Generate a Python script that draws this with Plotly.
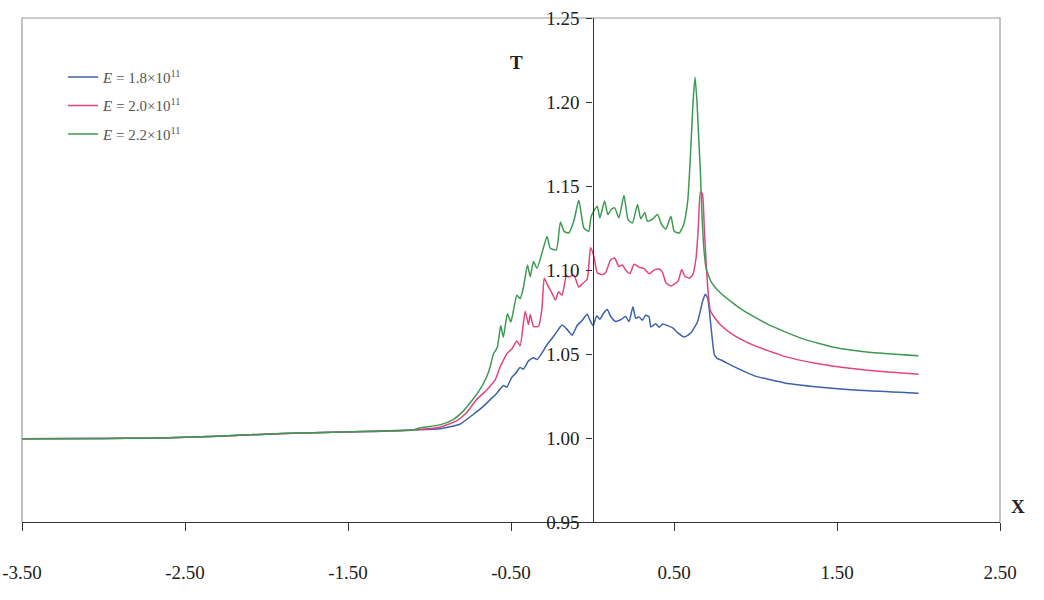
import plotly.graph_objects as go

# ---- data ----
x_common = [-3.5, -3.0, -2.7, -2.3, -1.9, -1.4, -1.1]
t_common = [0.9995, 0.9997, 0.9999, 1.0010, 1.0027, 1.0038, 1.0048]

x_blue = [-0.937, -0.814, -0.732, -0.670, -0.629, -0.588, -0.547, -0.526, -0.495, -0.475,
          -0.444, -0.424, -0.393, -0.362, -0.341, -0.310, -0.279, -0.248, -0.218, -0.187,
          -0.160, -0.125, -0.094, -0.064, -0.033, -0.015, 0.004, 0.025, 0.045, 0.070,
          0.091, 0.111, 0.142, 0.173, 0.203, 0.224, 0.248, 0.265, 0.285, 0.306,
          0.326, 0.347, 0.358, 0.388, 0.409, 0.430, 0.461, 0.492, 0.522, 0.563,
          0.604, 0.645, 0.676, 0.692, 0.707, 0.728, 0.748, 0.764, 0.789, 0.871,
          0.994, 1.179, 1.385, 1.694, 2.0]
t_blue = [1.0055, 1.0082, 1.0140, 1.0188, 1.0227, 1.0265, 1.0313, 1.0303, 1.0362, 1.0381,
          1.0420, 1.0410, 1.0459, 1.0477, 1.0467, 1.0506, 1.0555, 1.0594, 1.0633, 1.0672,
          1.0651, 1.0612, 1.0670, 1.0699, 1.0737, 1.0700, 1.0668, 1.0727, 1.0707, 1.0746,
          1.0765, 1.0725, 1.0694, 1.0704, 1.0723, 1.0693, 1.0781, 1.0712, 1.0721, 1.0701,
          1.0731, 1.0721, 1.0661, 1.0680, 1.0659, 1.0679, 1.0669, 1.0655, 1.0627, 1.0601,
          1.0626, 1.0694, 1.0815, 1.0855, 1.0831, 1.0652, 1.0495, 1.0474, 1.0464, 1.0423,
          1.0370, 1.0328, 1.0304, 1.0281, 1.0267]

x_pink = [-0.937, -0.834, -0.773, -0.711, -0.649, -0.598, -0.567, -0.547, -0.526, -0.495,
          -0.464, -0.444, -0.413, -0.393, -0.382, -0.362, -0.331, -0.310, -0.296, -0.276,
          -0.248, -0.228, -0.208, -0.187, -0.160, -0.146, -0.115, -0.084, -0.064, -0.033,
          -0.012, 0.008, 0.029, 0.060, 0.080, 0.111, 0.136, 0.162, 0.183, 0.203,
          0.230, 0.255, 0.286, 0.316, 0.347, 0.378, 0.409, 0.430, 0.450, 0.481,
          0.501, 0.526, 0.547, 0.567, 0.594, 0.615, 0.635, 0.649, 0.662, 0.674,
          0.686, 0.699, 0.711, 0.722, 0.738, 0.789, 0.871, 0.994, 1.179, 1.385,
          1.591, 1.796, 2.0]
t_pink = [1.0064, 1.0102, 1.0150, 1.0229, 1.0286, 1.0344, 1.0423, 1.0462, 1.0501, 1.0530,
          1.0578, 1.0549, 1.0755, 1.0676, 1.0735, 1.0665, 1.0665, 1.0773, 1.0951, 1.0911,
          1.0861, 1.0821, 1.0870, 1.0850, 1.0967, 1.0958, 1.0971, 1.0898, 1.0916, 1.0945,
          1.1133, 1.1083, 1.0984, 1.0973, 1.0983, 1.1060, 1.1071, 1.1021, 1.1030, 1.1000,
          1.0979, 1.1034, 1.1017, 1.1008, 1.0978, 1.0999, 1.1006, 1.0985, 1.0925, 1.0905,
          1.0915, 1.0935, 1.1003, 1.0963, 1.0952, 1.0972, 1.1070, 1.1248, 1.1465, 1.1455,
          1.1247, 1.1010, 1.0851, 1.0760, 1.0732, 1.0670, 1.0610, 1.0550, 1.0486, 1.0442,
          1.0414, 1.0394, 1.0380]

x_green = [-1.060, -0.937, -0.855, -0.793, -0.742, -0.690, -0.649, -0.629, -0.608, -0.584,
           -0.563, -0.547, -0.522, -0.501, -0.464, -0.444, -0.424, -0.399, -0.382, -0.362,
           -0.341, -0.310, -0.279, -0.259, -0.222, -0.197, -0.173, -0.146, -0.115, -0.084,
           -0.053, -0.023, -0.008, 0.029, 0.045, 0.074, 0.094, 0.115, 0.136, 0.162,
           0.193, 0.218, 0.245, 0.276, 0.296, 0.321, 0.337, 0.368, 0.399, 0.424,
           0.450, 0.481, 0.501, 0.532, 0.559, 0.584, 0.604, 0.617, 0.629, 0.641,
           0.649, 0.662, 0.670, 0.683, 0.697, 0.728, 0.789, 0.912, 1.077, 1.282,
           1.488, 1.694, 2.0]
t_green = [1.0060, 1.0078, 1.0110, 1.0160, 1.0220, 1.0290, 1.0365, 1.0420, 1.0500, 1.0540,
           1.0670, 1.0600, 1.0740, 1.0690, 1.0850, 1.0830, 1.0895, 1.1030, 1.0960, 1.1050,
           1.1010, 1.1100, 1.1200, 1.1130, 1.1120, 1.1285, 1.1230, 1.1220, 1.1290, 1.1415,
           1.1250, 1.1230, 1.1320, 1.1380, 1.1310, 1.1410, 1.1330, 1.1360, 1.1370, 1.1310,
           1.1445, 1.1300, 1.1280, 1.1390, 1.1305, 1.1343, 1.1290, 1.1303, 1.1330, 1.1270,
           1.1243, 1.1320, 1.1230, 1.1220, 1.1270, 1.1408, 1.1744, 1.2000, 1.2148, 1.2000,
           1.1840, 1.1580, 1.1366, 1.1130, 1.1010, 1.0930, 1.0860, 1.0767, 1.0676, 1.0593,
           1.0539, 1.0511, 1.0490]

series_names = ["<i>E</i> = 1.8×10<sup>11</sup>",
                "<i>E</i> = 2.0×10<sup>11</sup>",
                "<i>E</i> = 2.2×10<sup>11</sup>"]
colors = ["#3d62ab", "#e0457f", "#3e9a52"]

x_ticks = [-3.5, -2.5, -1.5, -0.5, 0.5, 1.5, 2.5]
x_ticktext = ["-3.50", "-2.50", "-1.50", "-0.50", "0.50", "1.50", "2.50"]
y_ticks = [0.95, 1.00, 1.05, 1.10, 1.15, 1.20, 1.25]
y_ticktext = ["0.95", "1.00", "1.05", "1.10", "1.15", "1.20", "1.25"]

x_min, x_max = -3.5, 2.5
y_min, y_max = 0.95, 1.25

fig = go.Figure()
all_x = [x_common + x_blue, x_common + x_pink, x_common + x_green]
all_t = [t_common + t_blue, t_common + t_pink, t_common + t_green]
for i in range(3):
    fig.add_trace(go.Scatter(
        x=all_x[i], y=all_t[i], mode="lines", name=series_names[i],
        legendgroup="g%d" % i,
        line=dict(color=colors[i], width=1.5, shape="spline", smoothing=0.5),
    ))

serif = "Liberation Serif, Times New Roman, serif"
fig.update_layout(
    width=1044, height=600,
    margin=dict(l=22, r=44, t=18, b=78, autoexpand=False),
    paper_bgcolor="white", plot_bgcolor="white",
    font=dict(family=serif, size=19, color="#222"),
    showlegend=True,
    legend=dict(x=0.042, y=0.915, xanchor="left", yanchor="top",
                bgcolor="rgba(0,0,0,0)", tracegroupgap=6,
                itemwidth=30,
                font=dict(family=serif, size=15, color="#555")),
    xaxis=dict(range=[x_min, x_max], showgrid=False, zeroline=False,
               automargin=False, ticklabeloverflow="allow",
               showline=True, linecolor="#333", linewidth=1.2,
               ticks="outside", ticklen=8, tickcolor="#333",
               tickvals=x_ticks, ticktext=x_ticktext,
               ticklabelstandoff=25,
               tickfont=dict(family=serif, size=19, color="#222")),
    yaxis=dict(range=[y_min, y_max], showgrid=False, zeroline=False,
               automargin=False, ticklabeloverflow="allow",
               anchor="free", position=(0 - x_min) / (x_max - x_min),
               showline=True, linecolor="#333", linewidth=1.2,
               ticks="outside", ticklen=6, tickcolor="#333",
               tickvals=y_ticks, ticktext=y_ticktext,
               ticklabelstandoff=3,
               tickfont=dict(family=serif, size=19, color="#222")),
    shapes=[dict(type="path", xref="paper", yref="paper",
                 path="M 0,0 L 0,1 L 1,1 L 1,0",
                 line=dict(color="#9a9a9a", width=1.2), layer="below")],
    annotations=[
        dict(text="<b>T</b>", xref="paper", yref="paper", x=0.506, y=0.937,
             showarrow=False, font=dict(family=serif, size=19, color="#222")),
        dict(text="<b>X</b>", xref="paper", yref="paper", x=1.028, y=0.005,
             showarrow=False, font=dict(family=serif, size=19, color="#222")),
    ],
)

fig.write_html("out.html",
               config={"displayModeBar": False},
               post_script="document.body.style.margin='0px';document.body.style.overflow='hidden';")
